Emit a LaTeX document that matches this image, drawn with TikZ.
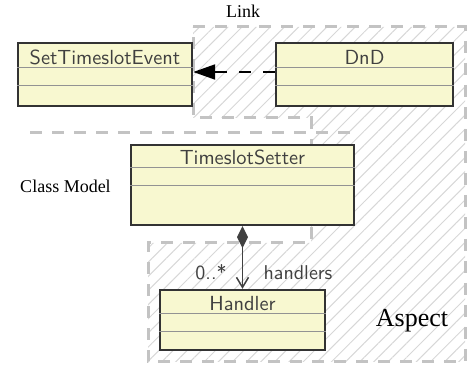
\documentclass[tikz,border=0pt]{standalone}
\usepackage{fontspec}
\newfontfamily\labelfont{Liberation Serif}
\usetikzlibrary{arrows.meta,patterns.meta,calc}
\definecolor{classfill}{RGB}{248,248,208}
\definecolor{regionline}{RGB}{195,195,195}
\definecolor{hatchcol}{RGB}{215,215,215}
\begin{document}
\begin{tikzpicture}[x=0.5pt,y=-0.5pt,
  classbox/.style={draw=black!80, line width=1.2pt, fill=classfill, inner sep=0pt},
  divider/.style={draw=gray!85, line width=0.6pt},
  cname/.style={font=\sffamily\fontsize{10.2}{12}\selectfont, text=black!75, anchor=base, inner sep=0pt},
  region/.style={draw=regionline, line width=1.5pt, dash pattern=on 6pt off 5pt},
  lbl/.style={font=\labelfont\fontsize{9}{11}\selectfont, anchor=base, inner sep=0pt},
  rolelbl/.style={font=\sffamily\fontsize{10}{12}\selectfont, text=black!75, anchor=base, inner sep=0pt},
  dep/.style={draw=black, line width=1pt, dash pattern=on 6pt off 6pt, -{Triangle[length=11pt,width=7.5pt]}},
  comp/.style={draw=black!75, line width=0.75pt, {Diamond[length=11pt,width=5.5pt]}-{Straight Barb[length=5pt,width=6pt]}}
]
\useasboundingbox (0,0) rectangle (471,368);

% hatched aspect region
\path[pattern={Lines[angle=45,distance=5pt,line width=0.5pt]}, pattern color=hatchcol]
  (193,27) -- (465,27) -- (465,362) -- (148,362) -- (148,243) -- (311,243) -- (311,118) -- (193,118) -- cycle;
\draw[region] (193,27) -- (465,27) -- (465,362) -- (148,362) -- (148,243) -- (311,243) -- (311,118) -- (193,118) -- cycle;
\draw[region] (30,133) -- (352,133);

% classes
\node[classbox, minimum width=87pt, minimum height=31.5pt] (ste) at (105,74.5) {};
\draw[divider] ($(ste.north west)+(0,26)$) -- ($(ste.north east)+(0,26)$);
\draw[divider] ($(ste.north west)+(0,44)$) -- ($(ste.north east)+(0,44)$);
\node[cname] (steN) at (105,65) {SetTimeslotEvent};

\node[classbox, minimum width=88.5pt, minimum height=31.5pt] (dnd) at (364.5,74.5) {};
\draw[divider] ($(dnd.north west)+(0,26)$) -- ($(dnd.north east)+(0,26)$);
\draw[divider] ($(dnd.north west)+(0,44)$) -- ($(dnd.north east)+(0,44)$);
\node[cname] (dndN) at (364.5,65) {DnD};

\node[classbox, minimum width=111.5pt, minimum height=40pt] (ts) at (242.5,185) {};
\draw[divider] ($(ts.north west)+(0,24)$) -- ($(ts.north east)+(0,24)$);
\draw[divider] ($(ts.north west)+(0,42)$) -- ($(ts.north east)+(0,42)$);
\node[cname] (tsN) at (242.5,165) {TimeslotSetter};

\node[classbox, minimum width=82.5pt, minimum height=30pt] (h) at (242.5,320) {};
\draw[divider] ($(h.north west)+(0,25)$) -- ($(h.north east)+(0,25)$);
\draw[divider] ($(h.north west)+(0,43)$) -- ($(h.north east)+(0,43)$);
\node[cname] (hN) at (242.5,311) {Handler};

% connectors
\draw[dep] ([yshift=1.25pt]dnd.west) -- ([yshift=1.25pt]ste.east);
\draw[comp] (ts.south) -- (h.north);
\node[rolelbl] (mult) at (211,280) {0..*};
\node[rolelbl] (role) at (298,280) {handlers};

% region labels
\node[lbl] (link) at (243,18) {Link};
\node[lbl] (cm) at (65.5,193) {Class Model};
\node[lbl, font=\labelfont\fontsize{13}{15}\selectfont] (asp) at (412,327) {Aspect};
\end{tikzpicture}
\end{document}
